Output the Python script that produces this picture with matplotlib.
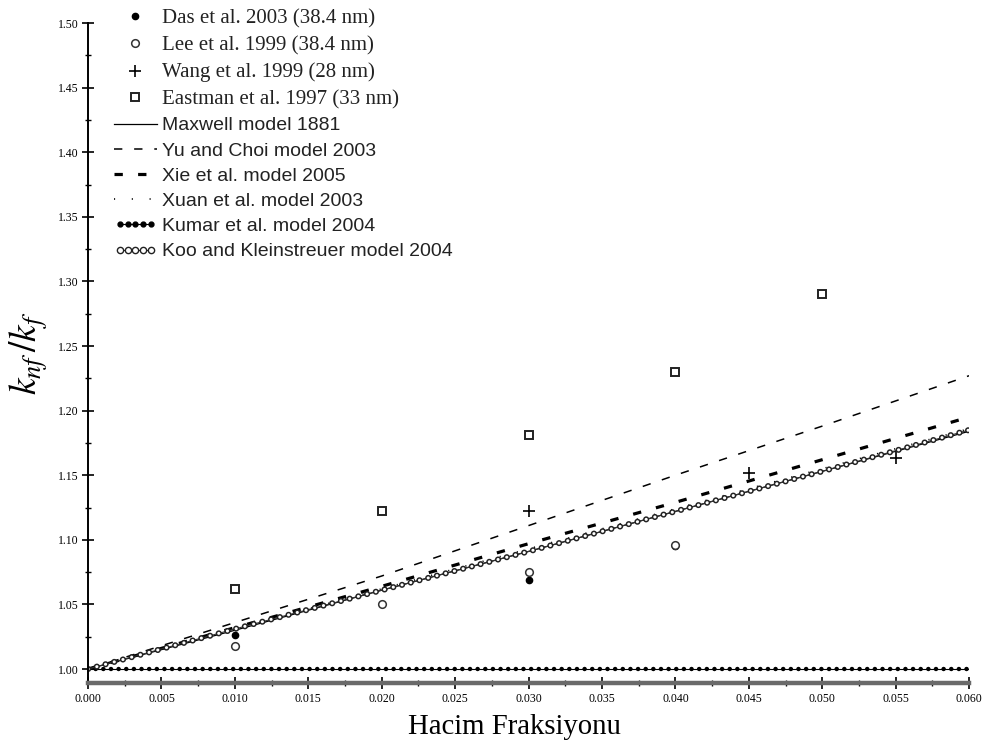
import numpy as np
import matplotlib
matplotlib.use('Agg')
import matplotlib.pyplot as plt
from matplotlib.lines import Line2D
from matplotlib.ticker import MultipleLocator, FormatStrFormatter
from matplotlib.legend_handler import HandlerLine2D

plt.rcParams['lines.scale_dashes'] = False
plt.rcParams['mathtext.fontset'] = 'stix'

# measured data (volume fraction, k_nf/k_f)
phi_das = [0.010, 0.030, 0.040]
k_das = [1.026, 1.069, 1.095]
phi_lee = [0.010, 0.020, 0.030, 0.040]
k_lee = [1.018, 1.050, 1.075, 1.096]
phi_wang = [0.030, 0.045, 0.055]
k_wang = [1.122, 1.152, 1.163]
phi_eastman = [0.010, 0.020, 0.030, 0.040, 0.050]
k_eastman = [1.062, 1.122, 1.181, 1.230, 1.290]

# model predictions
phi_model = [0.000, 0.010, 0.020, 0.030, 0.040, 0.050, 0.060]
k_maxwell = [1.000, 1.030, 1.061, 1.091, 1.122, 1.153, 1.184]
k_yu_choi = [1.000, 1.036, 1.072, 1.111, 1.150, 1.188, 1.227]
k_xie = [1.000, 1.032, 1.064, 1.097, 1.129, 1.162, 1.195]
k_xuan = [1.000, 1.031, 1.062, 1.093, 1.124, 1.155, 1.186]
k_kumar = [1.000, 1.000, 1.000, 1.000, 1.000, 1.000, 1.000]
k_koo = [1.000, 1.031, 1.061, 1.091, 1.122, 1.153, 1.185]

serif = 'Liberation Serif'
sans = 'Liberation Sans'

fig = plt.figure(figsize=(9.86, 7.47), dpi=100)
ax = fig.add_axes([0.0893, 0.0857, 0.8935, 0.8835])

maxwell, = ax.plot(phi_model, k_maxwell, color='black', lw=0.9)
yu, = ax.plot(phi_model, k_yu_choi, color='black', lw=1.1, ls=(0, (6, 8.5)))
xie, = ax.plot(phi_model, k_xie, color='black', lw=2.3, ls=(0, (6, 11)))
xuan, = ax.plot(phi_model, k_xuan, color='black', lw=1.2, ls=(0, (0.8, 12)))

# Kumar: row of filled dots on a thin line
ax.plot(phi_model, k_kumar, color='black', lw=0.8)
ax.plot(phi_model, k_kumar, color='black', lw=3.2,
        ls=(0, (0.1, 5.4)), dash_capstyle='round')

# Koo: row of open rings (black dots with white centres)
ax.plot(phi_model, k_koo, color='#333333', lw=0.8)
ax.plot(phi_model, k_koo, color='#222222', lw=4.4,
        ls=(0, (0.1, 6.4)), dash_capstyle='round')
ax.plot(phi_model, k_koo, color='white', lw=2.2,
        ls=(0, (0.1, 6.4)), dash_capstyle='round')

das, = ax.plot(phi_das, k_das, ls='none', marker='o', ms=4.5,
               color='black')
lee, = ax.plot(phi_lee, k_lee, ls='none', marker='o', ms=5.5, mfc='white',
               mec='#333333', mew=1.1)
wang, = ax.plot(phi_wang, k_wang, ls='none', marker='+', ms=8,
                color='black', mew=1.2)
eastman, = ax.plot(phi_eastman, k_eastman, ls='none', marker='s', ms=6,
                   mfc='white', mec='#222222', mew=1.4)

# legend keys for the dotted model curves
kumar_key = Line2D([], [], color='black', lw=0.8, marker='o', ms=3.5)
koo_key = Line2D([], [], color='#222222', lw=0.8, marker='o', ms=4.5,
                 mfc='white', mew=1.0)

ax.set_xlim(0.0, 0.060)
ax.set_ylim(0.9892, 1.50)

for side in ['top', 'right']:
    ax.spines[side].set_visible(False)
ax.spines['left'].set_linewidth(1.4)
ax.spines['bottom'].set_linewidth(3.2)
ax.spines['bottom'].set_color('#6a6a6a')

ax.xaxis.set_major_locator(MultipleLocator(0.005))
ax.xaxis.set_minor_locator(MultipleLocator(0.0025))
ax.yaxis.set_major_locator(MultipleLocator(0.05))
ax.yaxis.set_minor_locator(MultipleLocator(0.025))
ax.xaxis.set_major_formatter(FormatStrFormatter('%.3f'))
ax.yaxis.set_major_formatter(FormatStrFormatter('%.2f'))
ax.tick_params(which='major', direction='inout', length=8, width=1.2,
               pad=3, labelsize=8.5)
ax.tick_params(which='minor', direction='inout', length=5, width=1.0)
for lbl in ax.get_xticklabels() + ax.get_yticklabels():
    lbl.set_fontfamily(serif)

ax.set_xlabel('Hacim Fraksiyonu', fontsize=20.7, family=serif)
ax.xaxis.set_label_coords(0.4835, -0.047)
ax.set_ylabel(r'$k_{nf}\,/k_f$', fontsize=27)
ax.yaxis.set_label_coords(-0.043, 0.50)

handles = [das, lee, wang, eastman, maxwell, yu, xie, xuan,
           kumar_key, koo_key]
labels = ['Das et al. 2003 (38.4 nm)', 'Lee et al. 1999 (38.4 nm)',
          'Wang et al. 1999 (28 nm)', 'Eastman et al. 1997 (33 nm)',
          'Maxwell model 1881', 'Yu and Choi model 2003',
          'Xie et al. model 2005', 'Xuan et al. model 2003',
          'Kumar et al. model 2004', 'Koo and Kleinstreuer model 2004']
leg = ax.legend(handles, labels, loc='upper left',
                bbox_to_anchor=(114 / 986, 1 - 9 / 747),
                bbox_transform=fig.transFigure, frameon=False,
                numpoints=1, handlelength=2.2, handletextpad=0.25,
                labelspacing=0.39, borderpad=0, borderaxespad=0,
                fontsize=14,
                handler_map={kumar_key: HandlerLine2D(numpoints=5),
                             koo_key: HandlerLine2D(numpoints=5)})
for i, txt in enumerate(leg.get_texts()):
    if i < 4:
        txt.set_fontfamily(serif)
        txt.set_fontsize(15)
    else:
        txt.set_fontfamily(sans)
    txt.set_color('#222222')

fig.savefig('out.png', dpi=100)
